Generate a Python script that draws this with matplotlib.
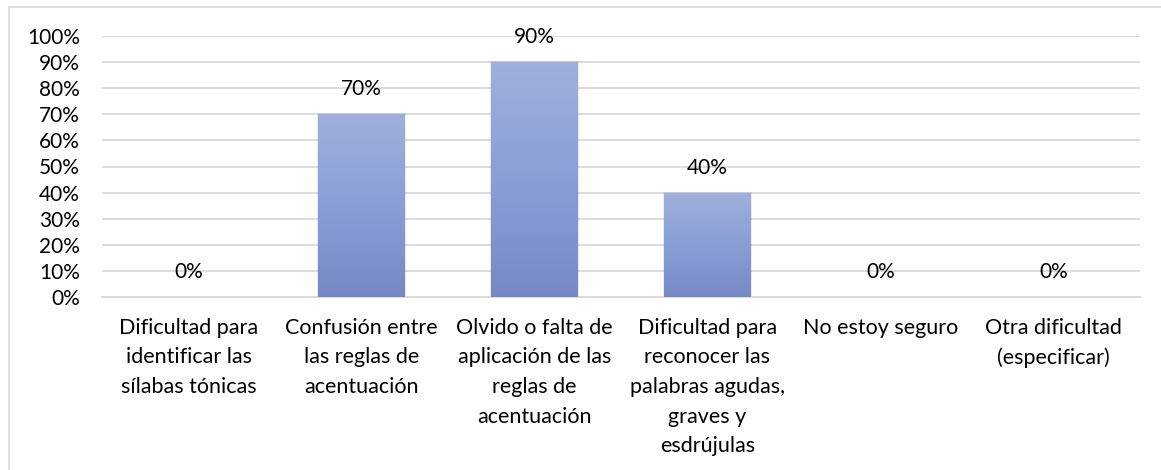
import numpy as np
import matplotlib.pyplot as plt
from matplotlib.patches import Rectangle
from matplotlib.colors import LinearSegmentedColormap

categorias = ["Dificultad para\nidentificar las\nsílabas tónicas",
              "Confusión entre\nlas reglas de\nacentuación",
              "Olvido o falta de\naplicación de las\nreglas de\nacentuación",
              "Dificultad para\nreconocer las\npalabras agudas,\ngraves y\nesdrújulas",
              "No estoy seguro",
              "Otra dificultad\n(especificar)"]
valores = [0.0, 0.70, 0.90, 0.40, 0.0, 0.0]
etiquetas = ["0%", "70%", "90%", "40%", "0%", "0%"]

plt.rcParams['font.family'] = ['Lato', 'DejaVu Sans']

fig = plt.figure(figsize=(11.61, 4.70), dpi=100)
ax = fig.add_axes([102/1161, 1-297/470, (1140-102)/1161, (297-36)/470])

x = np.arange(len(valores))
bars = ax.bar(x, valores, width=0.5, color='none', zorder=3)

cmap = LinearSegmentedColormap.from_list("grad", ["#7689C4", "#8A9ED6", "#A0B0DC"])
grad = np.linspace(0, 1, 256).reshape(-1, 1)
for b in bars:
    h = b.get_height()
    if h <= 0:
        continue
    x0 = b.get_x()
    w = b.get_width()
    # faint shadow
    ax.add_patch(Rectangle((x0 - 0.01, 0), w + 0.02, h + 0.004, color='#000000',
                           alpha=0.08, lw=0, zorder=2))
    im = ax.imshow(grad, cmap=cmap, aspect='auto', origin='lower',
                   extent=(x0, x0 + w, 0, h), zorder=3)
    im.set_clip_path(b)

for xi, v, t in zip(x, valores, etiquetas):
    ax.annotate(t, (xi, v), xytext=(0, 18), textcoords='offset points',
                ha='center', va='center', fontsize=15, color='#000000', zorder=4)

ax.set_xlim(-0.5, len(valores) - 0.5)
ax.set_ylim(0, 1.0)
ax.set_yticks(np.arange(0, 1.01, 0.1))
ax.set_yticklabels([f"{int(round(t*100))}%" for t in np.arange(0, 1.01, 0.1)])
ax.set_xticks(x)
ax.set_xticklabels(categorias, linespacing=1.6)
ax.tick_params(axis='x', length=0, labelsize=15.5, colors='#000000', pad=15)
ax.tick_params(axis='y', length=0, labelsize=15, colors='#000000', pad=16)
ax.grid(axis='y', color='#D9D9D9', lw=1.3, zorder=0)
ax.set_axisbelow(True)
for s in ['top', 'right', 'left']:
    ax.spines[s].set_visible(False)
ax.spines['bottom'].set_color('#D9D9D9')
ax.spines['bottom'].set_linewidth(1.3)

# chart area border
fig.patches.append(Rectangle((9/1161, -0.1), 1.2, 1 - 7/470 + 0.1, transform=fig.transFigure,
                             fill=False, edgecolor='#D9D9D9', lw=1.2))

fig.savefig("out.png", dpi=100)
